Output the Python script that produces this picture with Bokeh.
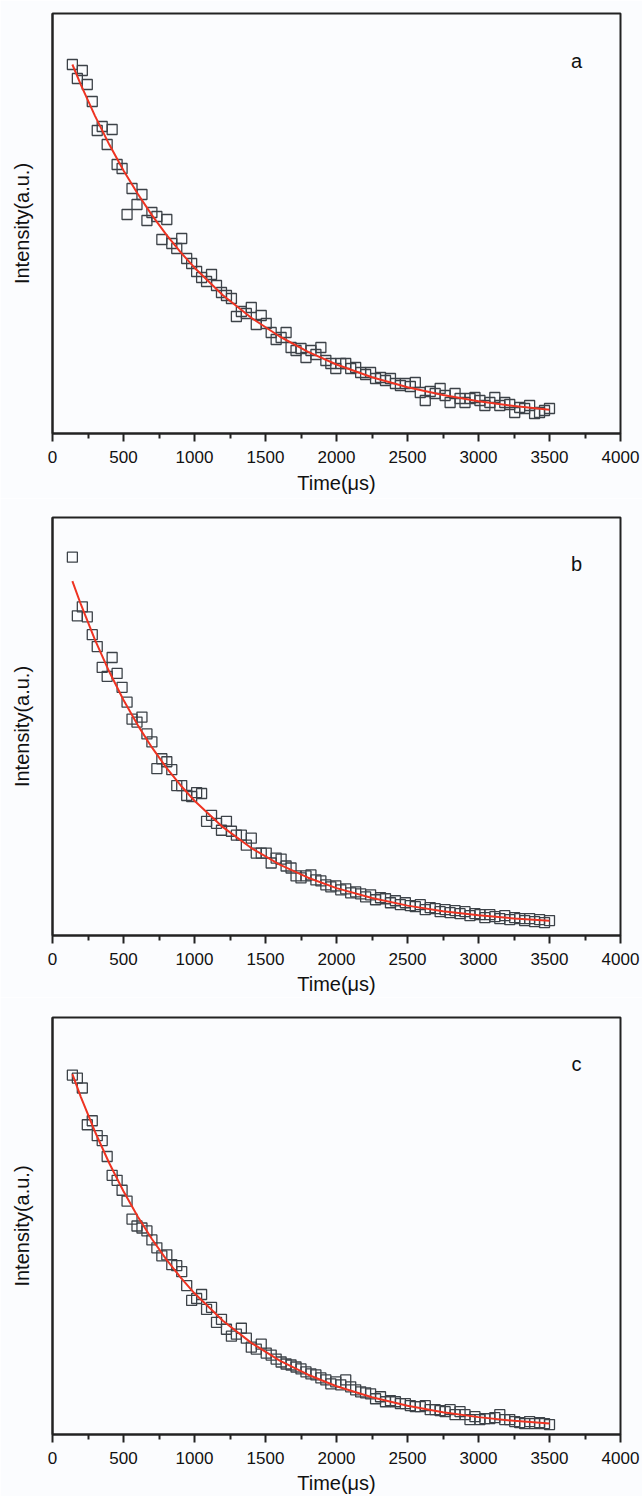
from bokeh.plotting import figure
from bokeh.layouts import column
from bokeh.models import Range1d, FixedTicker, Label
from bokeh.embed import file_html
from bokeh.resources import INLINE

# ---------------- data ----------------
T = [140, 175, 210, 245, 280, 315, 350, 385, 420, 455, 490, 525, 560, 595, 630, 665, 700, 735, 770, 805,
     840, 875, 910, 945, 980, 1015, 1050, 1085, 1120, 1155, 1190, 1225, 1260, 1295, 1330, 1365, 1400, 1435,
     1470, 1505, 1540, 1575, 1610, 1645, 1680, 1715, 1750, 1785, 1820, 1855, 1890, 1925, 1960, 1995, 2030,
     2065, 2100, 2135, 2170, 2205, 2240, 2275, 2310, 2345, 2380, 2415, 2450, 2485, 2520, 2555, 2590, 2625,
     2660, 2695, 2730, 2765, 2800, 2835, 2870, 2905, 2940, 2975, 3010, 3045, 3080, 3115, 3150, 3185, 3220,
     3255, 3290, 3325, 3360, 3395, 3430, 3465, 3500]

I_A = [369, 355, 363, 349, 332, 303, 307, 289, 304, 269,
       265, 219, 245, 229, 239, 213, 221, 217, 194, 214,
       190, 185, 195, 175, 170, 162, 156, 152, 159, 148,
       141, 138, 135, 117, 122, 120, 126, 109, 118, 110,
       101, 94, 96, 101, 86, 83, 85, 76, 83, 79,
       86, 73, 70, 65, 70, 70, 65, 66, 61, 59,
       61, 55, 56, 53, 55, 50, 48, 50, 47, 51,
       41, 33, 42, 40, 45, 38, 31, 40, 35, 31,
       35, 36, 33, 28, 31, 36, 28, 31, 29, 21,
       26, 25, 28, 20, 21, 23, 25]

I_B = [381, 322, 331, 321, 303, 291, 270, 261, 280, 264,
       250, 235, 218, 215, 220, 203, 195, 168, 178, 175,
       167, 151, 151, 141, 140, 144, 143, 115, 121, 113,
       106, 115, 105, 101, 101, 91, 98, 83, 83, 83,
       73, 78, 77, 70, 68, 60, 58, 60, 61, 56,
       55, 51, 49, 50, 46, 47, 43, 44, 42, 39,
       41, 36, 38, 37, 33, 35, 31, 33, 30, 29,
       31, 26, 28, 27, 24, 26, 23, 25, 22, 24,
       20, 22, 21, 18, 21, 19, 17, 20, 16, 18,
       17, 15, 17, 14, 16, 13, 15]

I_C = [362, 359, 349, 312, 316, 301, 296, 280, 261, 256,
       246, 235, 217, 210, 208, 205, 196, 188, 180, 181,
       171, 170, 164, 150, 135, 137, 141, 126, 128, 113,
       116, 106, 99, 101, 107, 97, 88, 86, 91, 82,
       80, 76, 73, 71, 70, 68, 66, 63, 61, 60,
       57, 55, 51, 53, 50, 55, 48, 45, 43, 42,
       41, 36, 38, 33, 34, 33, 31, 31, 29, 28,
       28, 29, 25, 25, 24, 23, 25, 20, 23, 20,
       15, 18, 15, 16, 16, 17, 20, 15, 15, 13,
       12, 11, 13, 11, 12, 11, 10]

T_FIT = [140, 200, 300, 400, 500, 600, 700, 800, 900, 1000, 1200, 1400, 1600, 1800, 2000,
         2250, 2500, 2750, 3000, 3250, 3500]
FIT_A = [369, 348.7, 317.4, 288.9, 263.1, 239.7, 218.4, 199.2, 181.6, 165.8, 138.3, 115.7, 97.0,
         81.6, 69.0, 56.3, 46.3, 38.5, 32.3, 27.5, 23.7]
FIT_B = [357, 333.4, 297.5, 265.6, 237.2, 211.9, 189.4, 169.4, 151.6, 135.7, 109.1, 88.1, 71.4,
         58.2, 47.7, 37.7, 30.1, 24.5, 20.4, 17.2, 14.9]
FIT_C = [363, 339.9, 304.7, 273.2, 245.0, 219.6, 196.9, 176.7, 158.5, 142.2, 114.5, 92.3, 74.5,
         60.2, 48.6, 37.5, 28.9, 22.4, 17.5, 13.8, 11.0]

X_TICKS = [0, 500, 1000, 1500, 2000, 2500, 3000, 3500, 4000]
X_MINOR = [250, 750, 1250, 1750, 2250, 2750, 3250, 3750]
LETTERS = ["a", "b", "c"]
X_LABEL = "Time(\u03bcs)"
Y_LABEL = "Intensity(a.u.)"

# ---------------- style ----------------
BG = "#fbfcfe"
INK = "#222222"
FONT = "Liberation Sans"
RED = "#ee3322"
MARK = "#3c4248"


def make_panel(pts, fit, letter, height, top, bottom, right, y_max, lbl_standoff):
    p = figure(width=642, height=height, output_backend="svg", toolbar_location=None,
               x_range=Range1d(0, 4000), y_range=Range1d(0, y_max),
               min_border_left=52, min_border_right=right,
               min_border_top=top, min_border_bottom=bottom)
    p.background_fill_color = BG
    p.border_fill_color = BG
    p.grid.visible = False
    p.outline_line_color = INK
    p.outline_line_width = 2

    xa = p.xaxis[0]
    xa.ticker = FixedTicker(ticks=X_TICKS, minor_ticks=X_MINOR)
    xa.axis_line_color = INK
    xa.axis_line_width = 2
    xa.major_tick_line_color = INK
    xa.major_tick_line_width = 2
    xa.major_tick_in = 0
    xa.major_tick_out = 8
    xa.minor_tick_line_color = INK
    xa.minor_tick_line_width = 2
    xa.minor_tick_in = 0
    xa.minor_tick_out = 5
    xa.major_label_text_font = FONT
    xa.major_label_text_font_size = "17px"
    xa.major_label_text_line_height = 1.0
    xa.major_label_text_color = "#111111"
    xa.major_label_standoff = 9
    xa.axis_label = X_LABEL
    xa.axis_label_text_font = FONT
    xa.axis_label_text_font_size = "20px"
    xa.axis_label_text_line_height = 1.0
    xa.axis_label_text_font_style = "normal"
    xa.axis_label_text_color = "#111111"
    xa.axis_label_standoff = lbl_standoff

    ya = p.yaxis[0]
    ya.ticker = FixedTicker(ticks=[], minor_ticks=[])
    ya.axis_line_color = INK
    ya.axis_line_width = 2
    ya.major_tick_out = 0
    ya.major_tick_in = 0
    ya.minor_tick_out = 0
    ya.minor_tick_in = 0
    ya.major_label_standoff = 0
    ya.axis_label = Y_LABEL
    ya.axis_label_text_font = FONT
    ya.axis_label_text_font_size = "20px"
    ya.axis_label_text_font_style = "normal"
    ya.axis_label_text_color = "#111111"
    ya.axis_label_standoff = 20

    p.scatter(T, pts, marker="square", size=10, fill_color=None,
              line_color=MARK, line_width=1.3)
    p.line(T_FIT, fit, line_color=RED, line_width=2)

    p.add_layout(Label(x=3690, y=y_max - 47, text=letter, text_font=FONT,
                       text_font_size="20px", text_color="#111111",
                       text_align="center", text_baseline="middle"))
    return p


pa = make_panel(I_A, FIT_A, LETTERS[0], height=498, top=13, bottom=65, right=19, y_max=420,
                lbl_standoff=6)
pb = make_panel(I_B, FIT_B, LETTERS[1], height=499, top=19, bottom=59, right=19, y_max=421,
                lbl_standoff=5)
pc = make_panel(I_C, FIT_C, LETTERS[2], height=499, top=20, bottom=59, right=22, y_max=420,
                lbl_standoff=5)

layout = column(pa, pb, pc, spacing=0)
open("out.html", "w").write(file_html(layout, INLINE))
